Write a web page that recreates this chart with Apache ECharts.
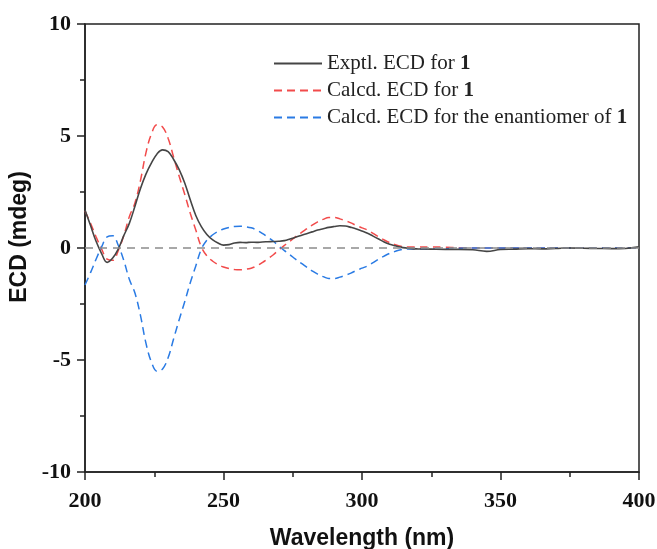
<!DOCTYPE html>
<html>
<head>
<meta charset="utf-8">
<script src="https://cdn.jsdelivr.net/npm/echarts@6/dist/echarts.min.js"></script>
<style>html,body{margin:0;padding:0;background:#fff;}#c{width:657px;height:549px;}</style>
</head>
<body>
<div id="c"></div>
<script>
// Wavelength grid (nm)
const wavelengths = [200,202,204,206,208,210,212,214,216,218,220,222,224,226,228,230,232,234,236,238,240,242,244,246,248,250,252,254,256,258,260,262,264,266,268,270,272,274,276,278,280,282,284,286,288,290,292,294,296,298,300,302,304,306,308,310,312,314,316,318,320,325,330,335,340,345,350,355,360,365,370,375,380,385,390,395,400];
// Exptl. ECD for 1
const exptlValues = [1.7,1.0,0.3,-0.25,-0.64,-0.45,-0.05,0.55,1.1,1.85,2.65,3.3,3.8,4.2,4.38,4.3,3.95,3.5,2.9,2.15,1.45,0.95,0.6,0.37,0.22,0.13,0.15,0.22,0.25,0.24,0.26,0.25,0.27,0.28,0.29,0.3,0.33,0.4,0.48,0.56,0.64,0.72,0.8,0.86,0.92,0.96,0.99,0.98,0.92,0.85,0.76,0.66,0.53,0.4,0.27,0.17,0.1,0.04,0.0,-0.03,-0.04,-0.05,-0.06,-0.06,-0.08,-0.15,-0.07,-0.05,-0.03,-0.04,-0.02,0.0,-0.01,-0.02,-0.03,-0.02,0.05];
// Calcd. ECD for 1
const calcdValues = [1.65,1.1,0.5,-0.05,-0.5,-0.55,-0.12,0.55,1.4,2.0,3.0,4.25,5.1,5.5,5.4,4.9,4.05,3.2,2.4,1.55,0.8,0.05,-0.35,-0.58,-0.74,-0.85,-0.92,-0.96,-0.97,-0.95,-0.9,-0.8,-0.65,-0.48,-0.3,-0.08,0.12,0.3,0.5,0.68,0.85,1.02,1.17,1.28,1.36,1.36,1.3,1.22,1.12,1.0,0.9,0.8,0.65,0.5,0.36,0.24,0.15,0.08,0.05,0.04,0.04,0.05,0.03,0.01,0,0,0,0,0,0,0,0,0,0,0,0,0];
// Calcd. ECD for the enantiomer of 1
const enantValues = [-1.65,-1.1,-0.5,0.05,0.5,0.55,0.12,-0.55,-1.4,-2.0,-3.0,-4.25,-5.1,-5.5,-5.4,-4.9,-4.05,-3.2,-2.4,-1.55,-0.8,-0.05,0.35,0.58,0.74,0.85,0.92,0.96,0.97,0.95,0.9,0.8,0.65,0.48,0.3,0.08,-0.12,-0.3,-0.5,-0.68,-0.85,-1.02,-1.17,-1.28,-1.36,-1.36,-1.3,-1.22,-1.12,-1.0,-0.9,-0.8,-0.65,-0.5,-0.36,-0.24,-0.15,-0.08,-0.05,-0.04,-0.04,-0.05,-0.03,-0.01,0,0,0,0,0,0,0,0,0,0,0,0,0];
const seriesNames = ['Exptl. ECD for 1','Calcd. ECD for 1','Calcd. ECD for the enantiomer of 1'];

const zip = (vals) => wavelengths.map((w, i) => [w, vals[i]]);
const chart = echarts.init(document.getElementById('c'), null, {renderer: 'canvas'});
const axisCommon = {
  axisLine: {show: true, onZero: false, lineStyle: {color: '#222', width: 1.5}},
  axisTick: {show: true, inside: false, length: 8, lineStyle: {color: '#222', width: 1.5}},
  minorTick: {show: true, splitNumber: 2, length: 5, lineStyle: {color: '#222', width: 1.5}},
  splitLine: {show: false},
  axisLabel: {fontFamily: 'Liberation Serif', fontWeight: 'bold', fontSize: 22, color: '#111'},
  nameLocation: 'middle',
  nameTextStyle: {fontFamily: 'Liberation Sans', fontWeight: 'bold', fontSize: 23, color: '#111'}
};
chart.setOption({
  animation: false,
  backgroundColor: '#fff',
  grid: {left: 85, right: 18, top: 24, bottom: 77, show: true, borderColor: '#222', borderWidth: 1.5,
    backgroundColor: 'transparent', containLabel: false, outerBoundsMode: 'none'},
  xAxis: Object.assign({}, axisCommon, {
    type: 'value', min: 200, max: 400, interval: 50,
    name: 'Wavelength (nm)', nameGap: 55,
    axisLabel: Object.assign({}, axisCommon.axisLabel, {margin: 18})
  }),
  yAxis: Object.assign({}, axisCommon, {
    type: 'value', min: -10, max: 10, interval: 5,
    name: 'ECD (mdeg)', nameGap: 43,
    nameTextStyle: Object.assign({}, axisCommon.nameTextStyle, {padding: [0, 0, 0, 22]}),
    axisLabel: Object.assign({}, axisCommon.axisLabel, {margin: 14})
  }),
  legend: {
    orient: 'vertical', left: 273, top: 53, padding: 0,
    itemWidth: 48, itemHeight: 10, itemGap: 6,
    data: seriesNames,
    itemStyle: {opacity: 0},
    formatter: (name) => name.replace(/ 1$/, ' {b|1}'),
    textStyle: {fontFamily: 'Liberation Serif', fontSize: 21, lineHeight: 21, color: '#222',
      rich: {b: {fontFamily: 'Liberation Serif', fontSize: 21, fontWeight: 'bold', color: '#222'}}}
  },
  series: [
    {name: seriesNames[0], type: 'line', data: zip(exptlValues), showSymbol: false, symbol: 'none', smooth: 0.4,
      lineStyle: {color: '#454545', width: 1.6}, itemStyle: {color: '#454545'}, z: 4,
      markLine: {silent: true, symbol: 'none', label: {show: false},
        lineStyle: {color: '#8c8c8c', width: 1.5, type: [8, 6]}, data: [{yAxis: 0}]}},
    {name: seriesNames[1], type: 'line', data: zip(calcdValues), showSymbol: false, symbol: 'none', smooth: 0.4,
      lineStyle: {color: '#f24b4b', width: 1.5, type: [8, 5]}, itemStyle: {color: '#f24b4b'}, z: 3},
    {name: seriesNames[2], type: 'line', data: zip(enantValues), showSymbol: false, symbol: 'none', smooth: 0.4,
      lineStyle: {color: '#2a7be4', width: 1.5, type: [8, 5]}, itemStyle: {color: '#2a7be4'}, z: 3}
  ]
});
</script>
</body>
</html>
